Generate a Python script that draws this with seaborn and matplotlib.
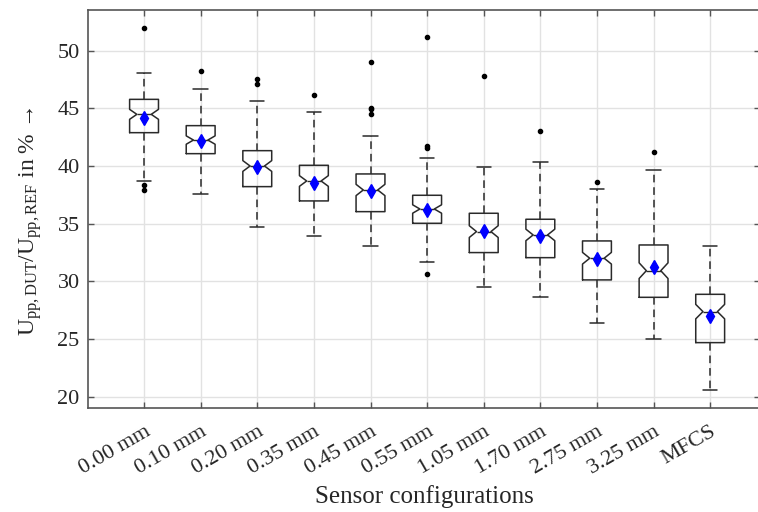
import numpy as np
import matplotlib
matplotlib.use("Agg")
import matplotlib.pyplot as plt
import seaborn as sns

# ---------------- data ----------------
categories = ["0.00 mm", "0.10 mm", "0.20 mm", "0.35 mm", "0.45 mm", "0.55 mm",
              "1.05 mm", "1.70 mm", "2.75 mm", "3.25 mm", "MFCS"]
whisker_low = [38.73, 37.60, 34.68, 33.96, 33.03, 31.65, 29.54, 28.61, 26.36, 25.00, 20.61]
q1_values = [42.89, 41.07, 38.21, 36.97, 36.04, 35.03, 32.49, 32.05, 30.12, 28.61, 24.68]
medians = [44.48, 42.25, 40.00, 38.70, 37.92, 36.27, 34.31, 34.02, 32.00, 30.92, 27.37]
q3_values = [45.78, 43.50, 41.33, 40.06, 39.31, 37.46, 35.90, 35.38, 33.50, 33.15, 28.87]
whisker_high = [48.09, 46.68, 45.64, 44.65, 42.63, 40.72, 39.94, 40.35, 37.98, 39.62, 33.09]
means = [44.19, 42.20, 39.91, 38.55, 37.83, 36.18, 34.39, 33.93, 31.94, 31.21, 26.99]
outliers = [
    [52.00, 38.38, 37.89],
    [48.24],
    [47.54, 47.11],
    [46.18],
    [48.99, 45.06, 44.94, 44.48],
    [51.16, 41.76, 41.59, 30.61],
    [47.77],
    [43.03],
    [38.61],
    [41.24],
    [],
]
n_samples = 110
y_label = r"$\mathrm{U}_{\mathrm{pp,DUT}}/\mathrm{U}_{\mathrm{pp,REF}}$ in % →"
x_label = "Sensor configurations"

# ---------------- style ----------------
sns.set_theme(style="whitegrid")
plt.rcParams["font.family"] = ["Liberation Serif", "DejaVu Serif"]
plt.rcParams["mathtext.fontset"] = "custom"
plt.rcParams["mathtext.rm"] = "Liberation Serif"
plt.rcParams["mathtext.it"] = "Liberation Serif:italic"
plt.rcParams["mathtext.bf"] = "Liberation Serif:bold"

W, H = 758, 512
fig = plt.figure(figsize=(W / 100, H / 100), dpi=100)
fig.patch.set_facecolor("white")
left, right, top, bottom = 88, 760, 10, 408
ax = fig.add_axes([left / W, 1 - bottom / H, (right - left) / W, (bottom - top) / H])
ax.set_facecolor("white")

stats = []
for i, cat in enumerate(categories):
    iqr = q3_values[i] - q1_values[i]
    half = 1.57 * iqr / np.sqrt(n_samples)
    stats.append(dict(label=cat, med=medians[i], q1=q1_values[i], q3=q3_values[i],
                      whislo=whisker_low[i], whishi=whisker_high[i], mean=means[i],
                      fliers=outliers[i], cilo=medians[i] - half, cihi=medians[i] + half))

positions = np.arange(1, len(categories) + 1)
edge = "#2a2a2a"
ax.bxp(stats, positions=positions, widths=0.51, shownotches=True, showmeans=True,
       showfliers=True, patch_artist=False,
       boxprops=dict(color=edge, linewidth=1.1),
       whiskerprops=dict(color=edge, linewidth=1.1, linestyle=(0, (5, 3.2))),
       capprops=dict(color=edge, linewidth=1.1),
       medianprops=dict(color=edge, linewidth=1.0),
       meanprops=dict(marker="d", markerfacecolor="#0000ff", markeredgecolor="#0000ff",
                      markersize=7.5, linestyle="none"),
       flierprops=dict(marker="o", markerfacecolor="black", markeredgecolor="black",
                       markersize=3, linestyle="none"))

ax.set_xlim(0.01, 11.88)
ax.set_ylim(19.01, 53.53)
ax.set_yticks([20, 25, 30, 35, 40, 45, 50])
ax.set_xticks(positions)
ax.set_xticklabels(categories, rotation=30, ha="right", va="top",
                   rotation_mode="anchor", fontsize=16)
ax.tick_params(axis="y", labelsize=16)
ax.tick_params(direction="in", length=4, width=1, color="#555555",
               top=True, right=True, bottom=True, left=True, pad=6)
ax.tick_params(axis="x", pad=10)
ax.grid(True, color="#e2e2e2", linewidth=1)
ax.set_axisbelow(True)
for s in ax.spines.values():
    s.set_color("#555555")
    s.set_linewidth(1.2)

ax.set_xlabel(x_label, fontsize=18, labelpad=5)
ax.set_ylabel(y_label, fontsize=17)
ax.yaxis.set_label_coords(-0.065, 0.47)

fig.savefig("out.png", dpi=100, facecolor="white")
